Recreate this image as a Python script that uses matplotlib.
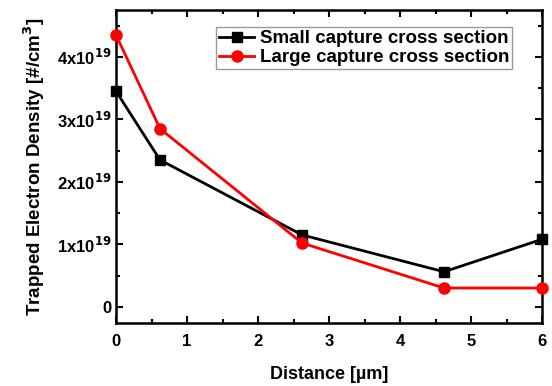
import matplotlib
matplotlib.use('Agg')
import matplotlib.pyplot as plt
from matplotlib.ticker import MultipleLocator, FuncFormatter

plt.rcParams['font.family'] = ['Liberation Sans', 'DejaVu Sans']
plt.rcParams['font.weight'] = 'bold'

distance = [0, 0.62, 2.62, 4.62, 6]
small = [3.45e19, 2.35e19, 1.15e19, 0.56e19, 1.08e19]
large = [4.35e19, 2.85e19, 1.02e19, 0.30e19, 0.30e19]

fig = plt.figure(figsize=(5.52, 3.86), dpi=100)
ax = fig.add_axes([116/552, 1-323/386, 426/552, 313/386])

ax.plot(distance, small, 'k-s', lw=2, ms=7, label='Small capture cross section', clip_on=False, zorder=3)
ax.plot(distance, large, 'r-o', lw=2, ms=8, label='Large capture cross section', clip_on=False, zorder=3)

ax.set_xlim(0, 6)
ax.set_ylim(-0.26e19, 4.75e19)
ax.xaxis.set_major_locator(MultipleLocator(1))
ax.xaxis.set_minor_locator(MultipleLocator(0.5))
ax.yaxis.set_major_locator(MultipleLocator(1e19))
ax.yaxis.set_minor_locator(MultipleLocator(0.5e19))

def yfmt(v, pos):
    n = int(round(v / 1e19))
    if n == 0:
        return '0'
    return r'%dx10$^{\mathbf{19}}$' % n
ax.yaxis.set_major_formatter(FuncFormatter(yfmt))

ax.tick_params(which='both', direction='in', top=True, right=True, width=1.5, labelsize=12)
ax.tick_params(which='major', length=5)
ax.tick_params(which='minor', length=3)
ax.tick_params(axis='x', pad=8)
for s in ax.spines.values():
    s.set_linewidth(1.8)

ax.set_xlabel('Distance [\u00b5m]', fontsize=13, fontweight='bold', labelpad=12)
ax.set_ylabel(r'Trapped Electron Density [#/cm$^{\mathbf{3}}$]', fontsize=13.5, fontweight='bold', labelpad=7)

leg = ax.legend(loc='upper right', bbox_to_anchor=(0.93, 0.945), fontsize=13.5, frameon=True,
                fancybox=False, edgecolor='gray', handlelength=1.9, borderpad=0.15,
                labelspacing=0.1, handletextpad=0.3, borderaxespad=0)
leg.get_frame().set_linewidth(1)

fig.savefig('out.png', dpi=100)
